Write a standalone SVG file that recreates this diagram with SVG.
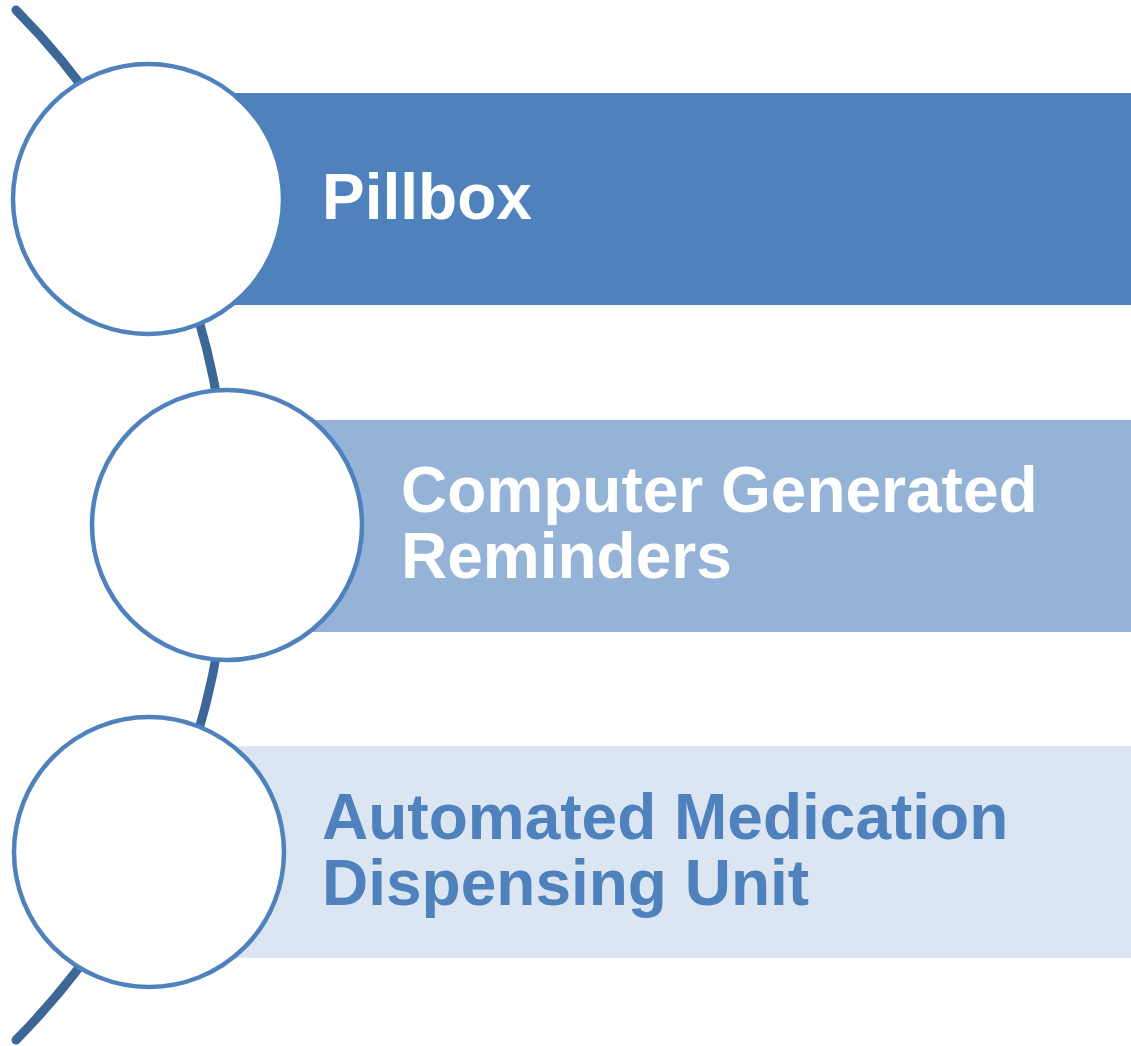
<svg xmlns="http://www.w3.org/2000/svg" width="1131" height="1046" viewBox="0 0 1131 1046">
  <style>
    .bar1 { fill: #4F81BD; }
    .bar2 { fill: #95B3D7; }
    .bar3 { fill: #DCE6F2; }
    .circ { fill: #FFFFFF; stroke: #4F81BD; stroke-width: 4.5; }
    .arc { fill: none; stroke: #3D6797; stroke-width: 9; stroke-linecap: round; }
    .lbl { font-family: "Liberation Sans", Arial, sans-serif; font-weight: bold; font-size: 64px; }
    .white { fill: #FFFFFF; }
    .blue { fill: #4F81BD; }
  </style>
  <rect width="1131" height="1046" fill="#FFFFFF"/>
  <g id="connectors">
    <path class="arc" d="M 16 10 A 731.5 731.5 0 0 1 16 1040"/>
  </g>
  <g id="node-pillbox">
    <rect class="bar1" x="148" y="93" width="983" height="212"/>
    <circle class="circ" cx="148" cy="199" r="135"/>
    <text class="lbl white" x="322" y="219">Pillbox</text>
  </g>
  <g id="node-reminders">
    <rect class="bar2" x="227" y="420" width="904" height="212"/>
    <circle class="circ" cx="227" cy="525" r="135"/>
    <text class="lbl white" x="401" y="512">Computer Generated</text>
    <text class="lbl white" x="401" y="578">Reminders</text>
  </g>
  <g id="node-dispensing">
    <rect class="bar3" x="148" y="746" width="983" height="212"/>
    <circle class="circ" cx="149" cy="852" r="135"/>
    <text class="lbl blue" x="322" y="839">Automated Medication</text>
    <text class="lbl blue" x="322" y="905">Dispensing Unit</text>
  </g>
</svg>
